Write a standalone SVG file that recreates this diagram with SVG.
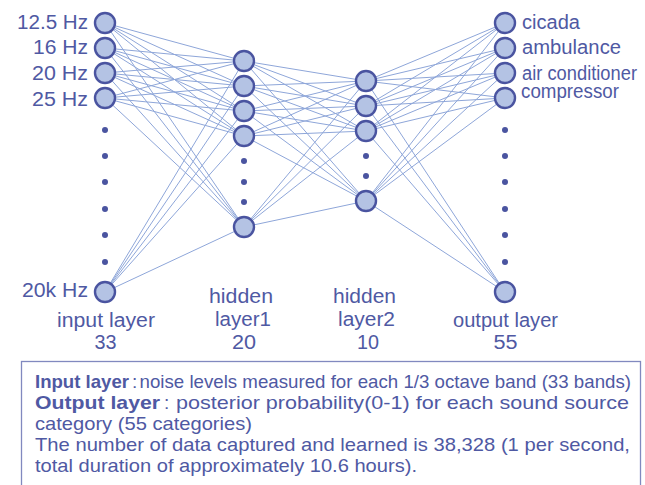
<svg xmlns="http://www.w3.org/2000/svg" width="645" height="485" viewBox="0 0 645 485">
<style>
.t{font-family:"Liberation Sans",Arial,sans-serif;font-size:20px;fill:#4f59a3}
.b{font-family:"Liberation Sans",Arial,sans-serif;font-size:19px;fill:#4f59a3}
.bold{font-weight:bold}
.n{fill:#b4c3e4;stroke:#4a54a0;stroke-width:2.4}
.d{fill:#4a54a0}
#connectors line{stroke:#8ea6d9;stroke-width:1}
</style>
<rect width="645" height="485" fill="#ffffff"/>
<g id="connectors">
<line x1="105" y1="23" x2="244" y2="61"/><line x1="105" y1="23" x2="244" y2="86"/><line x1="105" y1="23" x2="244" y2="111"/><line x1="105" y1="23" x2="244" y2="136"/><line x1="105" y1="23" x2="244" y2="227"/>
<line x1="105" y1="48" x2="244" y2="61"/><line x1="105" y1="48" x2="244" y2="86"/><line x1="105" y1="48" x2="244" y2="111"/><line x1="105" y1="48" x2="244" y2="136"/><line x1="105" y1="48" x2="244" y2="227"/>
<line x1="105" y1="73" x2="244" y2="61"/><line x1="105" y1="73" x2="244" y2="86"/><line x1="105" y1="73" x2="244" y2="111"/><line x1="105" y1="73" x2="244" y2="136"/><line x1="105" y1="73" x2="244" y2="227"/>
<line x1="105" y1="98" x2="244" y2="61"/><line x1="105" y1="98" x2="244" y2="86"/><line x1="105" y1="98" x2="244" y2="111"/><line x1="105" y1="98" x2="244" y2="136"/><line x1="105" y1="98" x2="244" y2="227"/>
<line x1="105" y1="292" x2="244" y2="61"/><line x1="105" y1="292" x2="244" y2="86"/><line x1="105" y1="292" x2="244" y2="111"/><line x1="105" y1="292" x2="244" y2="136"/><line x1="105" y1="292" x2="244" y2="227"/>
<line x1="244" y1="61" x2="366" y2="81"/><line x1="244" y1="61" x2="366" y2="106"/><line x1="244" y1="61" x2="366" y2="131"/><line x1="244" y1="61" x2="366" y2="201"/>
<line x1="244" y1="86" x2="366" y2="81"/><line x1="244" y1="86" x2="366" y2="106"/><line x1="244" y1="86" x2="366" y2="131"/><line x1="244" y1="86" x2="366" y2="201"/>
<line x1="244" y1="111" x2="366" y2="81"/><line x1="244" y1="111" x2="366" y2="106"/><line x1="244" y1="111" x2="366" y2="131"/><line x1="244" y1="111" x2="366" y2="201"/>
<line x1="244" y1="136" x2="366" y2="81"/><line x1="244" y1="136" x2="366" y2="106"/><line x1="244" y1="136" x2="366" y2="131"/><line x1="244" y1="136" x2="366" y2="201"/>
<line x1="244" y1="227" x2="366" y2="81"/><line x1="244" y1="227" x2="366" y2="106"/><line x1="244" y1="227" x2="366" y2="131"/><line x1="244" y1="227" x2="366" y2="201"/>
<line x1="366" y1="81" x2="505" y2="23"/><line x1="366" y1="81" x2="505" y2="48"/><line x1="366" y1="81" x2="505" y2="73"/><line x1="366" y1="81" x2="505" y2="98"/><line x1="366" y1="81" x2="505" y2="292"/>
<line x1="366" y1="106" x2="505" y2="23"/><line x1="366" y1="106" x2="505" y2="48"/><line x1="366" y1="106" x2="505" y2="73"/><line x1="366" y1="106" x2="505" y2="98"/><line x1="366" y1="106" x2="505" y2="292"/>
<line x1="366" y1="131" x2="505" y2="23"/><line x1="366" y1="131" x2="505" y2="48"/><line x1="366" y1="131" x2="505" y2="73"/><line x1="366" y1="131" x2="505" y2="98"/><line x1="366" y1="131" x2="505" y2="292"/>
<line x1="366" y1="201" x2="505" y2="23"/><line x1="366" y1="201" x2="505" y2="48"/><line x1="366" y1="201" x2="505" y2="73"/><line x1="366" y1="201" x2="505" y2="98"/><line x1="366" y1="201" x2="505" y2="292"/>
</g>
<g id="input-layer">
<circle class="n" cx="105" cy="23" r="10"/><circle class="n" cx="105" cy="48" r="10"/><circle class="n" cx="105" cy="73" r="10"/><circle class="n" cx="105" cy="98" r="10"/>
<circle class="d" cx="105" cy="130" r="3"/><circle class="d" cx="105" cy="156" r="3"/><circle class="d" cx="105" cy="182" r="3"/><circle class="d" cx="105" cy="209" r="3"/><circle class="d" cx="105" cy="235" r="3"/><circle class="d" cx="105" cy="262" r="3"/>
<circle class="n" cx="105" cy="292" r="10"/>
<text class="t" x="88" y="28.5" text-anchor="end" textLength="71" lengthAdjust="spacingAndGlyphs">12.5 Hz</text>
<text class="t" x="88" y="54" text-anchor="end" textLength="55" lengthAdjust="spacingAndGlyphs">16 Hz</text>
<text class="t" x="88" y="80" text-anchor="end" textLength="56" lengthAdjust="spacingAndGlyphs">20 Hz</text>
<text class="t" x="88" y="106" text-anchor="end" textLength="56" lengthAdjust="spacingAndGlyphs">25 Hz</text>
<text class="t" x="88" y="297" text-anchor="end" textLength="66" lengthAdjust="spacingAndGlyphs">20k Hz</text>
<text class="t" x="106" y="327" text-anchor="middle" textLength="98" lengthAdjust="spacingAndGlyphs">input layer</text>
<text class="t" x="105.5" y="349" text-anchor="middle" textLength="22" lengthAdjust="spacingAndGlyphs">33</text>
</g>
<g id="hidden-layer-1">
<circle class="n" cx="244" cy="61" r="10"/><circle class="n" cx="244" cy="86" r="10"/><circle class="n" cx="244" cy="111" r="10"/><circle class="n" cx="244" cy="136" r="10"/>
<circle class="d" cx="244" cy="161" r="3"/><circle class="d" cx="244" cy="182" r="3"/><circle class="d" cx="244" cy="202" r="3"/>
<circle class="n" cx="244" cy="227" r="10"/>
<text class="t" x="241" y="303" text-anchor="middle" textLength="64" lengthAdjust="spacingAndGlyphs">hidden</text>
<text class="t" x="243" y="326" text-anchor="middle" textLength="56" lengthAdjust="spacingAndGlyphs">layer1</text>
<text class="t" x="244" y="349" text-anchor="middle" textLength="24" lengthAdjust="spacingAndGlyphs">20</text>
</g>
<g id="hidden-layer-2">
<circle class="n" cx="366" cy="81" r="10"/><circle class="n" cx="366" cy="106" r="10"/><circle class="n" cx="366" cy="131" r="10"/>
<circle class="d" cx="366" cy="156" r="3"/><circle class="d" cx="366" cy="176" r="3"/>
<circle class="n" cx="366" cy="201" r="10"/>
<text class="t" x="364.5" y="303" text-anchor="middle" textLength="63" lengthAdjust="spacingAndGlyphs">hidden</text>
<text class="t" x="366.5" y="326" text-anchor="middle" textLength="57" lengthAdjust="spacingAndGlyphs">layer2</text>
<text class="t" x="368" y="349" text-anchor="middle" textLength="22" lengthAdjust="spacingAndGlyphs">10</text>
</g>
<g id="output-layer">
<circle class="n" cx="505" cy="23" r="10"/><circle class="n" cx="505" cy="48" r="10"/><circle class="n" cx="505" cy="73" r="10"/><circle class="n" cx="505" cy="98" r="10"/>
<circle class="d" cx="505" cy="130" r="3"/><circle class="d" cx="505" cy="156" r="3"/><circle class="d" cx="505" cy="182" r="3"/><circle class="d" cx="505" cy="209" r="3"/><circle class="d" cx="505" cy="235" r="3"/><circle class="d" cx="505" cy="262" r="3"/>
<circle class="n" cx="505" cy="292" r="10"/>
<text class="t" x="522" y="28.5" textLength="58" lengthAdjust="spacingAndGlyphs">cicada</text>
<text class="t" x="522" y="54" textLength="99" lengthAdjust="spacingAndGlyphs">ambulance</text>
<text class="t" x="522" y="79.5" font-size="19" textLength="115" lengthAdjust="spacingAndGlyphs">air conditioner</text>
<text class="t" x="521" y="97.5" font-size="19" textLength="98" lengthAdjust="spacingAndGlyphs">compressor</text>
<text class="t" x="505.5" y="327" text-anchor="middle" textLength="105" lengthAdjust="spacingAndGlyphs">output layer</text>
<text class="t" x="505.5" y="349" text-anchor="middle" textLength="24" lengthAdjust="spacingAndGlyphs">55</text>
</g>
<g id="note">
<rect x="21.5" y="361.5" width="619" height="135" fill="none" stroke="#8189bf" stroke-width="1.3"/>
<text class="b bold" x="35" y="388" textLength="94" lengthAdjust="spacingAndGlyphs">Input layer</text>
<text class="b" x="132" y="388">:</text>
<text class="b" x="139.5" y="388" textLength="491.5" lengthAdjust="spacingAndGlyphs">noise levels measured for each 1/3 octave band (33 bands)</text>
<text class="b bold" x="35" y="409" textLength="125" lengthAdjust="spacingAndGlyphs">Output layer</text>
<text class="b" x="164" y="409">:</text>
<text class="b" x="176" y="409" textLength="453" lengthAdjust="spacingAndGlyphs">posterior probability(0-1) for each sound source</text>
<text class="b" x="35" y="430" textLength="217" lengthAdjust="spacingAndGlyphs">category (55 categories)</text>
<text class="b" x="35" y="451" textLength="595" lengthAdjust="spacingAndGlyphs">The number of data captured and learned is 38,328 (1 per second,</text>
<text class="b" x="35" y="472" textLength="382" lengthAdjust="spacingAndGlyphs">total duration of approximately 10.6 hours).</text>
</g>
</svg>
